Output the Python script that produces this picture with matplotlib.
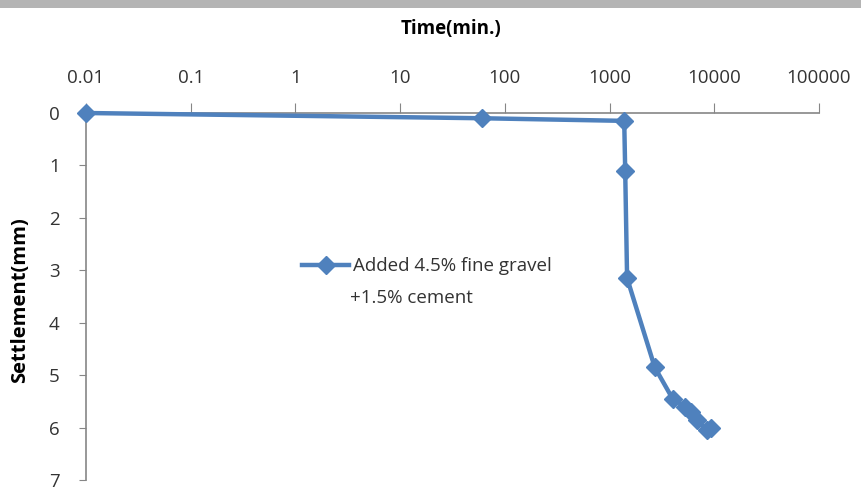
import matplotlib
matplotlib.use("Agg")
import matplotlib.pyplot as plt
from matplotlib.patches import Rectangle

# data
time_min = [0.01, 60, 1380, 1410, 1470, 2700, 4000, 5300, 6000, 6800, 8500, 9300]
settlement_mm = [0, 0.1, 0.15, 1.1, 3.15, 4.85, 5.45, 5.6, 5.7, 5.85, 6.05, 6.0]
series_label = ["Added 4.5% fine gravel", "+1.5% cement"]
x_ticks = [0.01, 0.1, 1, 10, 100, 1000, 10000, 100000]
x_tick_labels = ["0.01", "0.1", "1", "10", "100", "1000", "10000", "100000"]
y_ticks = [0, 1, 2, 3, 4, 5, 6, 7]

line_color = "#4F81BD"
axis_color = "#868686"
text_color = "#333333"
fs = 13.5
plt.rcParams["font.family"] = ["Open Sans", "DejaVu Sans"]

fig = plt.figure(figsize=(8.62, 4.93), dpi=100)
ax = fig.add_axes([86 / 862, 1 - 480 / 493, (819 - 86) / 862, (480 - 113) / 493])

ax.plot(time_min, settlement_mm, color=line_color, linewidth=3.2,
        marker="D", markersize=9, label=series_label[0], clip_on=False, zorder=3)

ax.set_xscale("log")
ax.set_xlim(0.01, 100000)
ax.set_ylim(7, 0)
ax.set_xticks(x_ticks)
ax.set_xticklabels(x_tick_labels)
ax.minorticks_off()
ax.set_yticks(y_ticks)

ax.xaxis.tick_top()
ax.tick_params(axis="x", direction="out", length=7, color=axis_color, pad=12,
               labelsize=fs, labelcolor=text_color)
ax.tick_params(axis="y", direction="out", length=5, color=axis_color, pad=14,
               labelsize=fs, labelcolor=text_color)
for side in ("right", "bottom"):
    ax.spines[side].set_visible(False)
for side in ("left", "top"):
    ax.spines[side].set_color(axis_color)
    ax.spines[side].set_linewidth(1.2)

fig.text(451 / 862, 1 - 29 / 493, "Time(min.)", ha="center", va="center",
         fontsize=fs, fontweight="bold")
fig.text(20 / 862, 1 - 300 / 493, "Settlement(mm)", ha="center", va="center",
         rotation=90, fontsize=fs + 1, fontweight="bold")

ax.legend(loc="upper left", bbox_to_anchor=(293 / 862, 1 - 248 / 493),
          bbox_transform=fig.transFigure, frameon=False, fontsize=fs,
          handlelength=2.5, handletextpad=0.2, borderpad=0, labelcolor=text_color)
fig.text(350 / 862, 1 - 298 / 493, series_label[1], ha="left", va="center",
         fontsize=fs, color=text_color)

# grey strip along the top edge
fig.patches.append(Rectangle((0, 1 - 8 / 493), 1, 8 / 493, transform=fig.transFigure,
                             facecolor="#b4b4b4", edgecolor="none"))

fig.savefig("out.png", dpi=100)
